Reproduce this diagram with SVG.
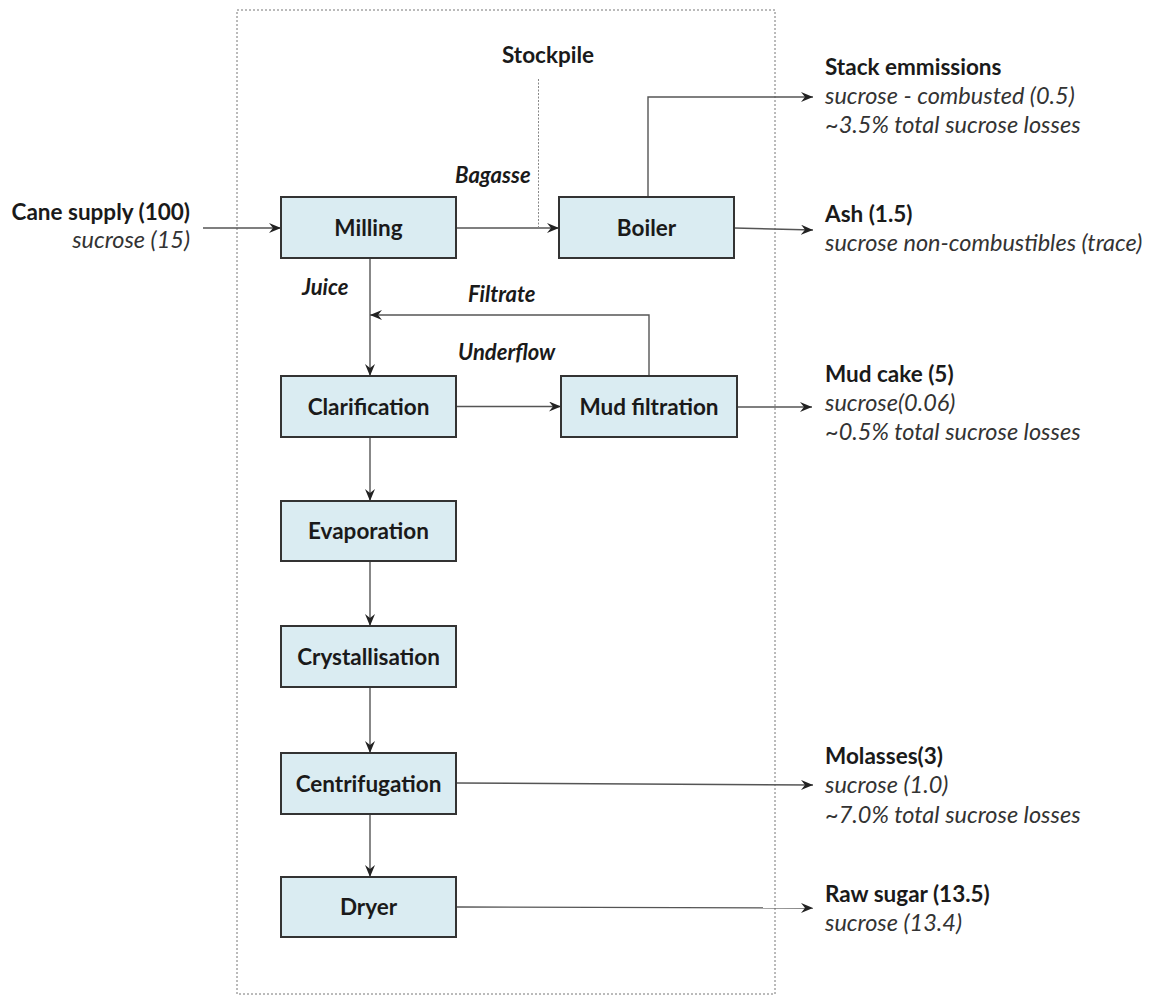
<svg xmlns="http://www.w3.org/2000/svg" width="1154" height="996" viewBox="0 0 1154 996">
<defs>
<marker id="arr" viewBox="0 0 12 10" refX="12" refY="5" markerWidth="12" markerHeight="10" markerUnits="userSpaceOnUse" orient="auto">
<path d="M0,0 L12,5 L0,10 L4,5 z" fill="#222"/>
</marker>
<style>
.box{fill:#daecf2;stroke:#333;stroke-width:2}
.bl{font-family:Lato,"Open Sans","Liberation Sans",sans-serif;font-weight:bold;font-size:22.5px;fill:#1a1a1a;text-anchor:middle}
.hd{font-family:Lato,"Open Sans","Liberation Sans",sans-serif;font-weight:bold;font-size:22.5px;fill:#1a1a1a}
.it{font-family:Lato,"Open Sans","Liberation Sans",sans-serif;font-style:italic;font-size:23.5px;fill:#333}
.lb{font-family:Lato,"Open Sans","Liberation Sans",sans-serif;font-style:italic;font-weight:bold;font-size:22px;fill:#1a1a1a}
.ln{fill:none;stroke:#555;stroke-width:1.4}
.ar{fill:none;stroke:#555;stroke-width:1.4;marker-end:url(#arr)}
</style>
</defs>
<rect x="237" y="10" width="538" height="984" fill="none" stroke="#777" stroke-width="1" stroke-dasharray="2,2"/>
<g id="connectors">
<line class="ar" x1="203" y1="228" x2="281" y2="228"/>
<line class="ar" x1="456" y1="228" x2="559" y2="228"/>
<line x1="538.5" y1="79" x2="538.5" y2="228" stroke="#888" stroke-width="1" stroke-dasharray="2,1.5"/>
<polyline class="ar" points="648,197 648,97 813,97"/>
<line class="ar" x1="734" y1="228" x2="813" y2="230"/>
<line class="ar" x1="370" y1="258" x2="370" y2="376"/>
<polyline class="ar" points="649,376 649,315 370,315"/>
<line class="ar" x1="456" y1="406.5" x2="561" y2="406.5"/>
<line class="ar" x1="737" y1="407" x2="812" y2="407"/>
<line class="ar" x1="370" y1="437" x2="370" y2="501"/>
<line class="ar" x1="370" y1="561" x2="370" y2="626"/>
<line class="ar" x1="370" y1="687" x2="370" y2="753"/>
<line class="ar" x1="370" y1="814" x2="370" y2="877"/>
<line class="ar" x1="456" y1="783" x2="813" y2="785"/>
<line class="ar" x1="456" y1="907" x2="813" y2="908"/>
</g>
<g id="labels">
<text class="hd" x="502" y="63">Stockpile</text>
<text class="lb" x="455" y="183">Bagasse</text>
<text class="lb" x="302" y="295">Juice</text>
<text class="lb" x="468" y="302">Filtrate</text>
<text class="lb" x="458" y="360">Underflow</text>
</g>
<g id="cane">
<text class="hd" x="190" y="220" text-anchor="end">Cane supply (100)</text>
<text class="it" x="190" y="248" text-anchor="end">sucrose (15)</text>
</g>
<g id="stack">
<text class="hd" x="825" y="75">Stack emmissions</text>
<text class="it" x="825" y="104">sucrose - combusted (0.5)</text>
<text class="it" x="825" y="133">~3.5% total sucrose losses</text>
</g>
<g id="ash">
<text class="hd" x="825" y="222">Ash (1.5)</text>
<text class="it" x="825" y="251">sucrose non-combustibles (trace)</text>
</g>
<g id="mudcake">
<text class="hd" x="825" y="382">Mud cake (5)</text>
<text class="it" x="825" y="411">sucrose(0.06)</text>
<text class="it" x="825" y="440">~0.5% total sucrose losses</text>
</g>
<g id="molasses">
<text class="hd" x="825" y="764">Molasses(3)</text>
<text class="it" x="825" y="793">sucrose (1.0)</text>
<text class="it" x="825" y="823">~7.0% total sucrose losses</text>
</g>
<g id="rawsugar">
<text class="hd" x="825" y="902">Raw sugar (13.5)</text>
<text class="it" x="825" y="931">sucrose (13.4)</text>
</g>
<g id="milling"><rect class="box" x="281" y="197" width="175" height="61"/><text class="bl" x="368.5" y="236">Milling</text></g>
<g id="boiler"><rect class="box" x="559" y="197" width="175" height="61"/><text class="bl" x="646.5" y="236">Boiler</text></g>
<g id="clarification"><rect class="box" x="281" y="376" width="175" height="61"/><text class="bl" x="368.5" y="415">Clarification</text></g>
<g id="mudfiltration"><rect class="box" x="561" y="376" width="176" height="61"/><text class="bl" x="649" y="415">Mud filtration</text></g>
<g id="evaporation"><rect class="box" x="281" y="501" width="175" height="60"/><text class="bl" x="368.5" y="539">Evaporation</text></g>
<g id="crystallisation"><rect class="box" x="281" y="626" width="175" height="61"/><text class="bl" x="368.5" y="665">Crystallisation</text></g>
<g id="centrifugation"><rect class="box" x="281" y="753" width="175" height="61"/><text class="bl" x="368.5" y="792">Centrifugation</text></g>
<g id="dryer"><rect class="box" x="281" y="877" width="175" height="60"/><text class="bl" x="368.5" y="915">Dryer</text></g>
</svg>
